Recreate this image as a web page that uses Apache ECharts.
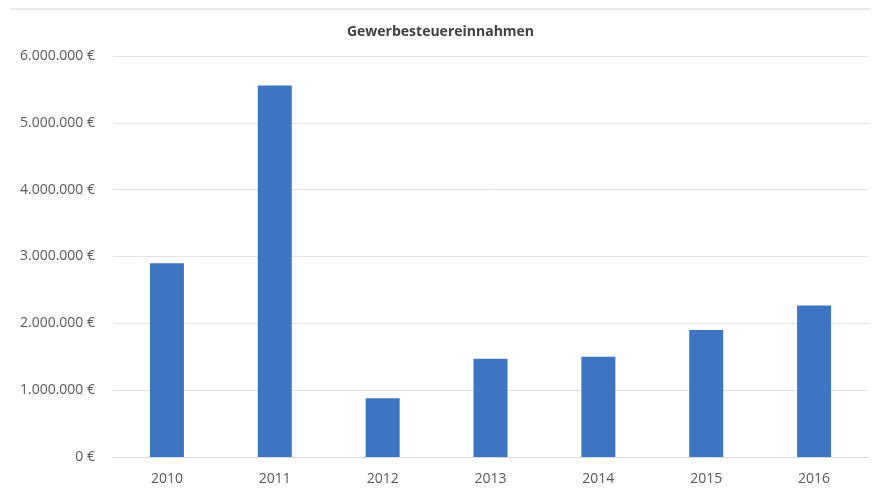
<!DOCTYPE html>
<html>
<head>
<meta charset="utf-8">
<script src="https://cdn.jsdelivr.net/npm/echarts@6/dist/echarts.min.js"></script>
<style>
  html, body { margin: 0; padding: 0; background: #fff; }
  #chart { width: 881px; height: 488px; }
</style>
</head>
<body>
<div id="chart"></div>
<script>
// Gewerbesteuereinnahmen je Jahr (Euro)
const years = ['2010', '2011', '2012', '2013', '2014', '2015', '2016'];
const revenue = [2900000, 5560000, 880000, 1470000, 1500000, 1900000, 2265000];
const yTicks = [0, 1000000, 2000000, 3000000, 4000000, 5000000, 6000000];

const FONT = '"Open Sans", Lato, sans-serif';

function euro(v) {
  return String(Math.round(v)).replace(/\B(?=(\d{3})+(?!\d))/g, '.') + ' €';
}

const chart = echarts.init(document.getElementById('chart'));
chart.setOption({
  backgroundColor: '#ffffff',
  animation: false,
  title: {
    text: 'Gewerbesteuereinnahmen',
    left: 'center',
    top: 20,
    textStyle: { fontFamily: FONT, fontSize: 14, fontWeight: 'bold', color: '#404040' }
  },
  graphic: [{
    type: 'line',
    shape: { x1: 10, y1: 9, x2: 871, y2: 9 },
    style: { stroke: '#d0d0d0', lineWidth: 1 }
  }],
  grid: { left: 113, right: 13, top: 56, bottom: 31 },
  xAxis: {
    type: 'category',
    data: years,
    axisTick: { show: false },
    axisLine: { lineStyle: { color: '#d9d9d9' } },
    axisLabel: { fontFamily: FONT, fontSize: 14, color: '#595959', margin: 15 }
  },
  yAxis: {
    type: 'value',
    min: yTicks[0],
    max: yTicks[yTicks.length - 1],
    interval: yTicks[1] - yTicks[0],
    axisLine: { show: false },
    axisTick: { show: false },
    splitLine: { lineStyle: { color: '#e3e3e3' } },
    axisLabel: { fontFamily: FONT, fontSize: 14, color: '#595959', margin: 18, formatter: euro }
  },
  series: [{
    type: 'bar',
    data: revenue,
    barWidth: 34,
    itemStyle: { color: '#3d75c2' }
  }]
});
</script>
</body>
</html>
